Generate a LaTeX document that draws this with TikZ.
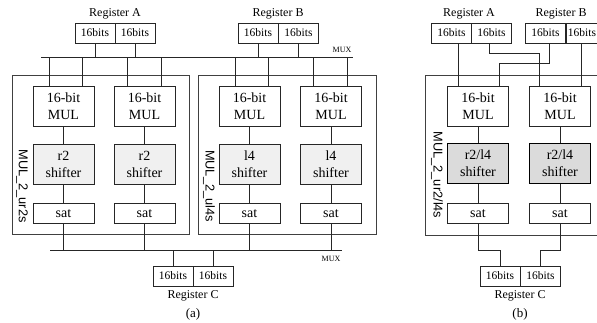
\documentclass[tikz,border=0pt]{standalone}
\usepackage{fontspec}
\setmainfont{Liberation Serif}
\newfontfamily\sansf{Liberation Sans}
\begin{document}
\begin{tikzpicture}[x=1pt,y=-1pt,
  ln/.style={draw=black!85,line width=0.8pt},
  regbox/.style={ln,minimum width=40pt,minimum height=20pt,inner sep=0pt,font=\fontsize{11.5}{12}\selectfont},
  reglabel/.style={inner sep=0pt,font=\fontsize{12}{13}\selectfont},
  mulbox/.style={ln,minimum width=61pt,minimum height=40pt,inner sep=0pt,align=center,font=\fontsize{14}{17}\selectfont},
  shfa/.style={mulbox,fill=black!6},
  shfb/.style={mulbox,fill=black!14,line width=1.8pt,draw=black},
  satbox/.style={ln,minimum width=61pt,minimum height=19.5pt,inner sep=0pt,font=\fontsize{14}{15}\selectfont},
  cont/.style={ln,draw=black!75},
  vlabel/.style={rotate=-90,inner sep=0pt,font=\sansf\fontsize{12.8}{13}\selectfont},
  muxlabel/.style={inner sep=0pt,font=\fontsize{8}{9}\selectfont},
  caption/.style={inner sep=0pt,font=\fontsize{13}{14}\selectfont},
  wire/.style={ln}]
\useasboundingbox (0,0) rectangle (597,322);

% ================= panel (a) =================
\draw[cont] (12,75) rectangle (189,234);
\draw[cont] (198,75) rectangle (376,234);

\node[regbox] (A1) at (95,33) {16bits};
\node[regbox] (A2) at (135,33) {16bits};
\node[reglabel] (LA) at (115,14) {Register A};
\node[regbox] (B1) at (258,33) {16bits};
\node[regbox] (B2) at (298.5,33) {16bits};
\node[reglabel] (LB) at (278,14) {Register B};

\coordinate (bt1) at (41,57);
\coordinate (bt2) at (353,57);
\draw[wire] (bt1) -- (bt2);
\node[muxlabel] (mux1) at (342,50) {MUX};

\foreach \r in {A1,A2,B1,B2} \draw[wire] (\r.south) -- (\r.south |- bt1);

\node[mulbox] (M1) at (63.5,106) {16-bit\\MUL};
\node[mulbox] (M2) at (144.5,106) {16-bit\\MUL};
\node[mulbox] (M3) at (249.5,106) {16-bit\\MUL};
\node[mulbox] (M4) at (331,106) {16-bit\\MUL};

\foreach \m/\xa/\xb in {M1/49/82,M2/127/161,M3/235/268,M4/313/347}{
  \draw[wire] (\xa,57) -- (\m.north -| {(\xa,0)});
  \draw[wire] (\xb,57) -- (\m.north -| {(\xb,0)});
}

\node[shfa] (S1) at (63.5,164) {r2\\shifter};
\node[shfa] (S2) at (144.5,164) {r2\\shifter};
\node[shfa] (S3) at (249.5,164) {l4\\shifter};
\node[shfa] (S4) at (331,164) {l4\\shifter};

\node[satbox] (T1) at (63.5,213.5) {sat};
\node[satbox] (T2) at (144.5,213.5) {sat};
\node[satbox] (T3) at (249.5,213.5) {sat};
\node[satbox] (T4) at (331,213.5) {sat};

\foreach \i in {1,2,3,4}{
  \draw[wire] (M\i.south) -- (S\i.north);
  \draw[wire] (S\i.south) -- (T\i.north);
}

\node[vlabel] (V1) at (22,186) {MUL\_2\_ur2s};
\node[vlabel] (V2) at (209,186) {MUL\_2\_ul4s};

\coordinate (bb1) at (50,250);
\coordinate (bb2) at (342,250);
\draw[wire] (bb1) -- (bb2);
\node[muxlabel] (mux2) at (331,259) {MUX};
\foreach \i in {1,2,3,4} \draw[wire] (T\i.south) -- (T\i.south |- bb1);

\node[regbox] (C1) at (173,276) {16bits};
\node[regbox] (C2) at (213,276) {16bits};
\node[reglabel] (LC) at (193,296) {Register C};
\draw[wire] (C1.north |- bb1) -- (C1.north);
\draw[wire] (C2.north |- bb1) -- (C2.north);
\node[caption] (capa) at (193,314) {(a)};

% ================= panel (b) =================
\draw[cont] (425,75) rectangle (612,235);

\node[regbox] (bA1) at (451.5,33) {16bits};
\node[regbox] (bA2) at (491.5,33) {16bits};
\node[reglabel] (bLA) at (469,14) {Register A};
\node[regbox] (bB1) at (545.5,33) {16bits};
\node[regbox,minimum width=32pt] (bB2) at (582,33) {16bits};
\node[reglabel] (bLB) at (561,14) {Register B};

\node[mulbox] (M5) at (478,106) {16-bit\\MUL};
\node[mulbox] (M6) at (560,106) {16-bit\\MUL};

\draw[wire] (bA1.south -| {(458,0)}) -- (M5.north -| {(458,0)});
\draw[wire] (bA2.south -| {(489,0)}) -- (489,53) -- (539,53) -- (M6.north -| {(539,0)});
\draw[wire] (bB1.south -| {(549,0)}) -- (549,63) -- (499,63) -- (M5.north -| {(499,0)});
\draw[wire] (bB2.south -| {(581,0)}) -- (M6.north -| {(581,0)});

\node[shfb] (S5) at (478,163.5) {r2/l4\\shifter};
\node[shfb] (S6) at (560,163.5) {r2/l4\\shifter};

\node[satbox] (T5) at (478,213.5) {sat};
\node[satbox] (T6) at (560,213.5) {sat};

\draw[wire] (M5.south) -- (S5.north);
\draw[wire] (S5.south) -- (T5.north);
\draw[wire] (M6.south) -- (S6.north);
\draw[wire] (S6.south) -- (T6.north);

\node[vlabel] (V3) at (437,175) {MUL\_2\_ur2/l4s};

\node[regbox] (bC1) at (500,276) {16bits};
\node[regbox] (bC2) at (540.5,276) {16bits};
\node[reglabel] (bLC) at (520,296) {Register C};

\draw[wire] (T5.south) -- (478,250) -- (500,250) -- (bC1.north);
\draw[wire] (T6.south) -- (560,250) -- (540.5,250) -- (bC2.north);

\node[caption] (capb) at (520,314) {(b)};
\end{tikzpicture}
\end{document}
